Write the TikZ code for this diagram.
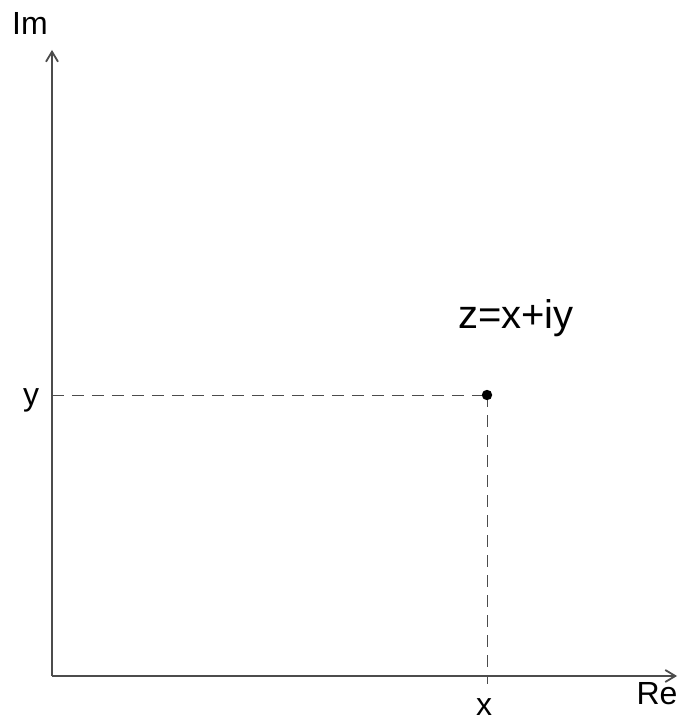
\documentclass[tikz,border=0pt]{standalone}
\usepackage{fontspec}
\setmainfont{Liberation Sans}
\usetikzlibrary{arrows.meta}

\begin{document}
\begin{tikzpicture}[x = 0.5pt, y = -0.5pt,
    axis/.style = {draw, line width = 0.9pt, black!70, -{Straight Barb[length = 5pt, width = 6pt]}},
    guide/.style = {draw, line width = 0.5pt, black!70, dash pattern = on 6pt off 4pt},
    lbl/.style = {font = \fontsize{16}{19}\selectfont, inner sep = 0pt, anchor = base}]
    \useasboundingbox(0,0)rectangle(680,721);
    % origin and ends of the axes
    \coordinate(O)at(52,676);
    \coordinate(ReEnd)at(677,676);
    \coordinate(ImEnd)at(52,50);
    % point z
    \coordinate(Z)at(487,395);
    \coordinate(Zy)at(52,395);
    \coordinate(Zx)at(487,684);
    % dashed guides
    \path[guide](Zy)to(Z);
    \path[guide](Z)to(Zx);
    % axes
    \path[axis](O)to(ReEnd);
    \path[axis](O)to(ImEnd);
    \fill(Z)circle(2.6pt);
    % labels
    \node[lbl](ImLabel)at(30,35){Im};
    \node[lbl](ReLabel)at(657,704){Re};
    \node[lbl](xLabel)at(484,715){x};
    \node[lbl](yLabel)at(31,405){y};
    \node[lbl, font = \fontsize{20}{24}\selectfont](zLabel)at(516,328){z=x+iy};
\end{tikzpicture}
\end{document}
